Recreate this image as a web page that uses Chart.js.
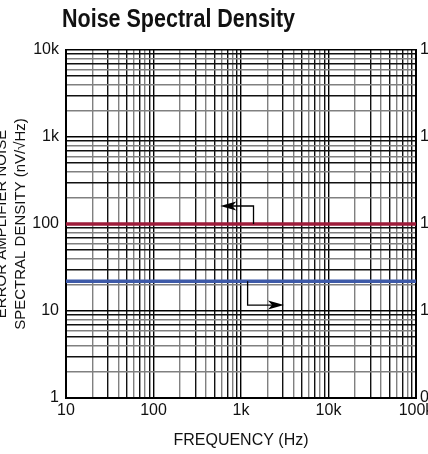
<!DOCTYPE html>
<html>
<head>
<meta charset="UTF-8">
<title>Noise Spectral Density</title>
<script src="https://cdn.jsdelivr.net/npm/chart.js"></script>
<style>
  html, body { margin: 0; padding: 0; overflow: hidden; background: #fff; }
  #wrap { position: relative; width: 464px; height: 454px; margin-left: -8px; }
</style>
</head>
<body>
<div id="wrap"><canvas id="nsd"></canvas></div>
<script>
// data
const freqRange = [10, 100000];
const voltNoise = [100, 100];      // nV/√Hz, left axis
const currNoise = [2.2, 2.2];      // pA/√Hz, right axis
const xTickValues = [10, 100, 1000, 10000, 100000];
const xTickLabels = ['10', '100', '1k', '10k', '100k'];
const yTickValues = [1, 10, 100, 1000, 10000];
const yTickLabels = ['1', '10', '100', '1k', '10k'];
const yrTickValues = [0.1, 1, 10, 100, 1000];
const yrTickLabels = ['0.1', '1', '10', '100', '1000'];
// arrow annotations: [start x, start y, elbow y, end x]
const voltArrow = [1390, 100, 161, 580];
const currArrow = [1190, 22, 11.7, 3100];

const FONT = "'Liberation Sans', Arial, sans-serif";

function decadeTicks(min, max) {
  const t = [];
  for (let e = Math.round(Math.log10(min)); e < Math.round(Math.log10(max)); e++) {
    for (let m = 1; m < 10; m++) t.push({ value: m * Math.pow(10, e) });
  }
  t.push({ value: max });
  return t;
}
function mant(v) {
  return Math.round(v / Math.pow(10, Math.floor(Math.log10(v) + 1e-9)));
}
function gridColor(ctx) {
  const m = mant(ctx.tick.value);
  if (m === 1) return '#000';
  return m % 2 === 0 ? '#808080' : '#111';
}
function labelFor(values, labels) {
  return function (v) {
    for (let i = 0; i < values.length; i++) {
      if (Math.abs(v - values[i]) < values[i] * 1e-6) return labels[i];
    }
    return '';
  };
}

// condensed bold heading, squeezed to the reference width
const titlePlugin = {
  id: 'bigTitle',
  afterDraw(chart) {
    const c = chart.ctx;
    const text = 'Noise Spectral Density';
    c.save();
    c.fillStyle = '#111';
    c.font = "bold 25px 'Liberation Sans', Arial, sans-serif";
    c.textBaseline = 'alphabetic';
    const w = c.measureText(text).width;
    c.translate(70, 27);
    c.scale(233 / w, 1);
    c.fillText(text, 0, 0);
    c.restore();
  }
};

const arrowPlugin = {
  id: 'arrows',
  afterDatasetsDraw(chart) {
    const c = chart.ctx, x = chart.scales.x, y = chart.scales.y;
    function arrow(a) {
      const x0 = x.getPixelForValue(a[0]);
      const y0 = y.getPixelForValue(a[1]);
      const y1 = y.getPixelForValue(a[2]);
      const x1 = x.getPixelForValue(a[3]);
      const dir = x1 < x0 ? -1 : 1;
      c.save();
      c.strokeStyle = '#000';
      c.lineWidth = 1.3;
      c.beginPath();
      c.moveTo(x0, y0);
      c.lineTo(x0, y1);
      c.lineTo(x1 - dir * 10, y1);
      c.stroke();
      c.fillStyle = '#000';
      c.beginPath();
      c.moveTo(x1, y1);
      c.lineTo(x1 - dir * 16, y1 - 4.5);
      c.lineTo(x1 - dir * 12, y1);
      c.lineTo(x1 - dir * 16, y1 + 4.5);
      c.closePath();
      c.fill();
      c.restore();
    }
    arrow(voltArrow);
    arrow(currArrow);
  }
};

new Chart(document.getElementById('nsd'), {
  type: 'line',
  data: {
    datasets: [{
      label: 'Voltage noise',
      data: freqRange.map((f, i) => ({ x: f, y: voltNoise[i] })),
      borderColor: 'rgb(158, 28, 58)',
      borderWidth: 3.5,
      pointRadius: 0,
      yAxisID: 'y'
    }, {
      label: 'Current noise',
      data: freqRange.map((f, i) => ({ x: f, y: currNoise[i] })),
      borderColor: 'rgb(62, 90, 168)',
      borderWidth: 3.5,
      pointRadius: 0,
      yAxisID: 'yR'
    }]
  },
  options: {
    responsive: true,
    maintainAspectRatio: false,
    animation: false,
    layout: { padding: { top: 50, left: 0, right: 0, bottom: 0 } },
    plugins: { legend: { display: false }, tooltip: { enabled: false }, title: { display: false } },
    scales: {
      x: {
        type: 'logarithmic',
        min: freqRange[0],
        max: freqRange[1],
        afterBuildTicks: s => { s.ticks = decadeTicks(freqRange[0], freqRange[1]); },
        afterFit: s => { s.height = 56; },
        ticks: {
          autoSkip: false, maxRotation: 0, padding: 3,
          color: '#111', font: { family: FONT, size: 16 },
          callback: labelFor(xTickValues, xTickLabels)
        },
        grid: { color: gridColor, lineWidth: 1.4, drawTicks: false },
        border: { color: '#000', width: 2 },
        title: { display: true, text: 'FREQUENCY (Hz)', color: '#111', font: { family: FONT, size: 16 }, padding: { top: 5 } }
      },
      y: {
        type: 'logarithmic',
        position: 'left',
        min: 1,
        max: 10000,
        afterBuildTicks: s => { s.ticks = decadeTicks(1, 10000); },
        afterFit: s => { s.width = 74; },
        ticks: {
          autoSkip: false, padding: 7,
          color: '#111', font: { family: FONT, size: 16 },
          callback: labelFor(yTickValues, yTickLabels)
        },
        grid: { color: gridColor, lineWidth: 1.4, drawTicks: false },
        border: { color: '#000', width: 2 },
        title: {
          display: true,
          text: ['ERROR AMPLIFIER NOISE', 'SPECTRAL DENSITY (nV/√Hz)'],
          color: '#111', font: { family: FONT, size: 15, lineHeight: 1.3 }, padding: 0
        }
      },
      yR: {
        type: 'logarithmic',
        position: 'right',
        min: 0.1,
        max: 1000,
        afterBuildTicks: s => { s.ticks = yrTickValues.map(v => ({ value: v })); },
        afterFit: s => { s.width = 40; },
        ticks: {
          autoSkip: false, padding: 4,
          color: '#111', font: { family: FONT, size: 16 },
          callback: labelFor(yrTickValues, yrTickLabels)
        },
        grid: { display: false, drawTicks: false },
        border: { color: '#000', width: 2 }
      }
    }
  },
  plugins: [titlePlugin, arrowPlugin]
});
</script>
</body>
</html>
